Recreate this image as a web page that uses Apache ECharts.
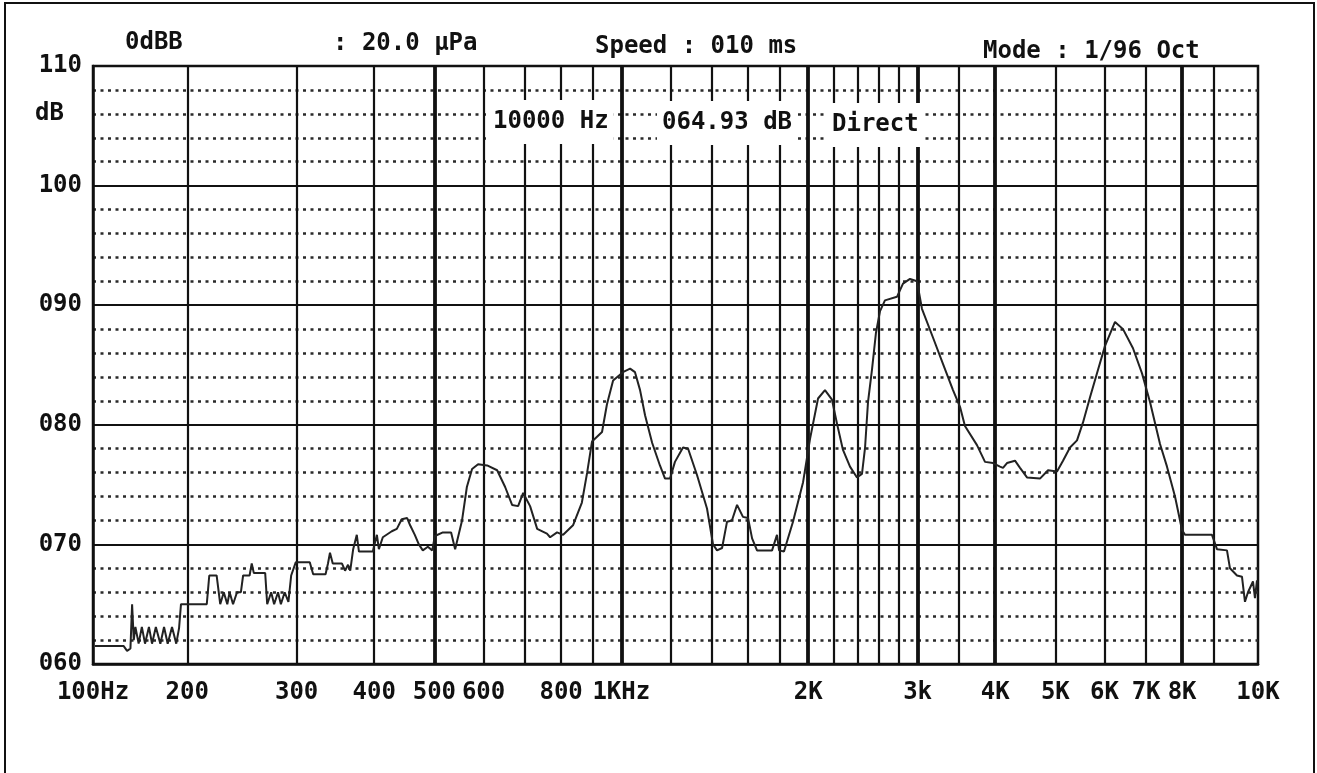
<!DOCTYPE html>
<html>
<head>
<meta charset="utf-8">
<script src="https://cdn.jsdelivr.net/npm/echarts@6/dist/echarts.min.js"></script>
<style>
  html, body { margin: 0; padding: 0; background: #fff; }
  #chart { width: 1317px; height: 773px; }
</style>
</head>
<body>
<div id="chart"></div>
<script>
// ---- data ----
const freqHz = [
  142, 158, 160, 162, 163, 164, 165, 167, 169, 171, 173.5, 175.5, 178, 181, 183.5, 186, 189, 192, 194, 195.4,
  215, 217, 223, 226, 229, 232, 234, 237, 240.5, 244, 246, 252, 254, 256, 267, 269, 273, 276, 280, 283, 287, 291, 294, 299,
  315, 319, 334, 337, 339.5, 343, 355, 359, 363, 366, 370, 375, 378, 398, 404, 407, 413, 427, 435, 443, 452, 457, 465, 472, 479, 488, 496, 501,
  516, 532, 540, 554, 564, 575, 588, 608, 631, 650, 667, 682, 695, 713, 732, 759, 768, 788, 806, 836, 864, 881, 897, 931, 948, 970,
  1006, 1033, 1052, 1072, 1092, 1121, 1154, 1176, 1198, 1220, 1257, 1281, 1324, 1374, 1405, 1426, 1453, 1480, 1507, 1536, 1570, 1600, 1624, 1654, 1749, 1781, 1795, 1828, 1890, 1962,
  2013, 2074, 2128, 2184, 2225, 2275, 2335, 2396, 2441, 2469, 2496, 2533, 2571, 2610, 2658, 2779, 2842, 2917, 2993, 3049, 3176, 3296, 3421, 3511, 3576, 3739, 3852, 3968,
  4072, 4118, 4179, 4305, 4386, 4501, 4723, 4866, 5031, 5144, 5279, 5418, 5540, 5686, 5857, 6011, 6238, 6426, 6668, 6895, 7102, 7371, 7564, 7792, 7997,
  8086, 8937, 9104, 9448, 9554, 9805, 9988, 10100, 10213, 10404, 10482, 10560
];
const levelDb = [
  61.5, 61.5, 61.1, 61.3, 65.0, 62.0, 63.1, 61.7, 63.1, 61.7, 63.1, 61.7, 63.1, 61.7, 63.1, 61.7, 63.1, 61.7, 63.0, 65.0,
  65.0, 67.4, 67.4, 65.0, 66.0, 65.0, 66.0, 65.0, 66.0, 66.0, 67.4, 67.4, 68.4, 67.6, 67.6, 65.0, 66.0, 65.0, 66.0, 65.0, 66.0, 65.2, 67.4, 68.5,
  68.5, 67.5, 67.5, 68.4, 69.3, 68.4, 68.4, 67.8, 68.3, 67.8, 69.6, 70.8, 69.4, 69.4, 70.8, 69.6, 70.6, 71.1, 71.3, 72.1, 72.2, 71.6, 70.8, 70.0, 69.5, 69.8, 69.5, 70.7,
  71.0, 71.0, 69.6, 72.0, 74.8, 76.3, 76.7, 76.6, 76.2, 74.8, 73.3, 73.2, 74.3, 73.2, 71.3, 70.9, 70.6, 71.0, 70.8, 71.6, 73.5, 76.0, 78.6, 79.4, 81.7, 83.7,
  84.4, 84.7, 84.4, 82.9, 80.8, 78.5, 76.6, 75.5, 75.5, 76.9, 78.1, 78.0, 75.8, 73.0, 70.0, 69.5, 69.7, 71.9, 72.0, 73.3, 72.3, 72.2, 70.5, 69.5, 69.5, 70.8, 69.5, 69.4, 71.9, 75.2,
  78.8, 82.2, 82.9, 82.1, 80.1, 77.9, 76.5, 75.6, 75.9, 78.1, 81.9, 84.6, 87.7, 89.5, 90.4, 90.7, 91.8, 92.2, 92.0, 89.7, 87.3, 85.1, 82.9, 81.5, 79.9, 78.3, 76.9, 76.8,
  76.5, 76.4, 76.8, 77.0, 76.4, 75.6, 75.5, 76.2, 76.1, 77.0, 78.1, 78.7, 80.2, 82.3, 84.6, 86.6, 88.6, 88.0, 86.4, 84.3, 81.9, 78.4, 76.5, 74.0, 71.2,
  70.8, 70.8, 69.6, 69.5, 68.0, 67.4, 67.3, 65.2, 66.0, 66.9, 65.5, 67.0
];

// axis range and tick labels as printed on the chart
const xMin = 141, xMax = 10600;
const xLabelValues = [141.0001, 200, 300, 400, 500, 600, 800, 1000, 2000, 3000, 4000, 5000, 6000, 7000, 8000, 10599.99];
const xLabelTexts  = ['100Hz', '200', '300', '400', '500', '600', '800', '1KHz', '2K', '3k', '4K', '5K', '6K', '7K', '8K', '10K'];
const thinGridHz = [200, 300, 400, 600, 700, 800, 900, 1200, 1400, 1600, 1800, 2200, 2400, 2600, 2800, 3500, 5000, 6000, 7000, 9000];
const boldGridHz = [500, 1000, 2000, 3000, 4000, 8000];

const headerTexts = ['0dBB', ': 20.0 \u03bcPa', 'Speed : 010 ms', 'Mode : 1/96 Oct'];
const readoutTexts = ['10000 Hz', '064.93 dB', 'Direct'];

// ---- chart ----
const FONT_FAMILY = '"DejaVu Sans Mono", "Liberation Mono", monospace';
const INK = '#111';
const chart = echarts.init(document.getElementById('chart'), null, { renderer: 'canvas' });

const points = freqHz.map((f, i) => [f, levelDb[i]]);
const labelMap = {};
xLabelValues.forEach((v, i) => { labelMap[Math.round(v)] = xLabelTexts[i]; });

const gridLines = thinGridHz.map(v => ({ xAxis: v, lineStyle: { width: 2.2, color: INK, type: 'solid' } }))
  .concat(boldGridHz.map(v => ({ xAxis: v, lineStyle: { width: 3.8, color: INK, type: 'solid' } })));

const headerPos = [[125, 43], [333, 44], [595, 47], [983, 52]];
const readoutPos = [[488, 122], [657, 123], [827, 125]];

const graphics = [
  { type: 'rect', silent: true, z: 0, shape: { x: 5, y: 3, width: 1309, height: 820 },
    style: { fill: 'none', stroke: INK, lineWidth: 2 } }
];
headerTexts.forEach((t, i) => graphics.push({
  type: 'text', silent: true, x: headerPos[i][0], y: headerPos[i][1], z: 10,
  style: { text: t, font: 'bold 24px ' + FONT_FAMILY, fill: INK, verticalAlign: 'middle', align: 'left' }
}));
readoutTexts.forEach((t, i) => graphics.push({
  type: 'text', silent: true, x: readoutPos[i][0], y: readoutPos[i][1], z: 10,
  style: { text: t, font: 'bold 24px ' + FONT_FAMILY, fill: INK, verticalAlign: 'middle', align: 'left',
           backgroundColor: '#fff', padding: [10, 5, 10, 5] }
}));
graphics.push({
  type: 'text', silent: true, x: 35, y: 114, z: 10,
  style: { text: 'dB', font: 'bold 24px ' + FONT_FAMILY, fill: INK, verticalAlign: 'middle', align: 'left' }
});

chart.setOption({
  animation: false,
  backgroundColor: '#fff',
  grid: { left: 93, right: 59, top: 66, bottom: 109, show: true, borderColor: INK, borderWidth: 2.5, backgroundColor: 'transparent' },
  xAxis: {
    type: 'log', logBase: 10, min: xMin, max: xMax,
    axisLine: { show: true, lineStyle: { color: INK, width: 2.5 } },
    axisTick: { show: false },
    splitLine: { show: false },
    minorSplitLine: { show: false },
    axisLabel: {
      customValues: xLabelValues,
      formatter: v => labelMap[Math.round(v)] || '',
      fontFamily: FONT_FAMILY, fontWeight: 'bold', fontSize: 24, color: INK, margin: 17,
      showMinLabel: true, showMaxLabel: true, hideOverlap: false
    }
  },
  yAxis: {
    type: 'value', min: 60, max: 110, interval: 10,
    axisLine: { show: true, lineStyle: { color: INK, width: 2.5 } },
    axisTick: { show: false },
    axisLabel: {
      formatter: v => String(v).padStart(3, '0'),
      fontFamily: FONT_FAMILY, fontWeight: 'bold', fontSize: 24, color: INK, margin: 11
    },
    splitLine: { show: true, lineStyle: { color: INK, width: 2.2 } },
    minorTick: { show: false, splitNumber: 5 },
    minorSplitLine: { show: true, lineStyle: { color: '#2a2a2a', width: 2.5, type: [3, 4.5] } }
  },
  graphic: graphics,
  series: [
    {
      type: 'line', data: [], z: 1, silent: true,
      markLine: { silent: true, symbol: ['none', 'none'], label: { show: false }, animation: false, data: gridLines }
    },
    {
      type: 'line', data: points, z: 5, symbol: 'none', showSymbol: false, silent: true,
      lineStyle: { color: '#222', width: 2 }
    }
  ]
});
</script>
</body>
</html>
